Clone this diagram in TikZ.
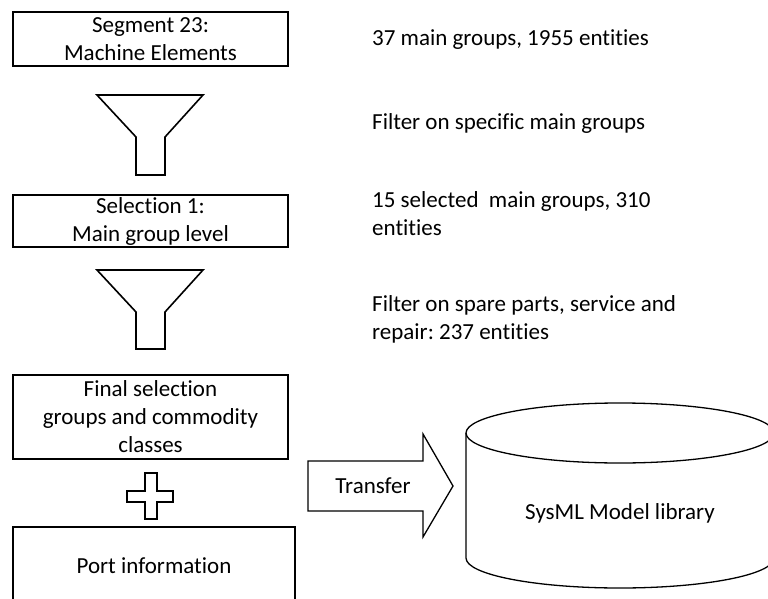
\documentclass[tikz,border=0pt]{standalone}
\usepackage{fontspec}
\setmainfont{Carlito}[Ligatures=NoCommon]
\frenchspacing
\begin{document}
\begin{tikzpicture}[x=1pt, y=-1pt,
	  box/.style={draw, line width=1.6pt, align=center, inner sep=0pt},
	  note/.style={anchor=west, align=left, inner sep=0pt},
	  outline/.style={line width=1.6pt, line join=miter},
	  every node/.style={font=\fontsize{23}{28}\selectfont}]
	  \useasboundingbox (0,0) rectangle (768,599);

	  \node [ box, minimum width=275pt, minimum height=54pt ] (segment) at (150.5,39) {Segment 23:\\Machine Elements};
	  \node [ box, minimum width=275pt, minimum height=52pt ] (selection) at (150.5,221) {Selection 1:\\Main group level};
	  \node [ box, minimum width=275pt, minimum height=84pt ] (final) at (150.5,417) {Final selection\\groups and commodity\\classes};
	  \node [ box, minimum width=282pt, minimum height=78pt ] (port) at (154,566) {Port information};

	  \draw [ outline ] (97,95)--(203,95)--(165,137)--(165,175)--(136,175)--(136,137)--cycle;
	  \draw [ outline ] (97,270)--(203,270)--(165,312)--(165,349)--(136,349)--(136,312)--cycle;

	  \draw [ outline ] (145,473)--(157,473)--(157,491)--(173,491)--(173,502)--(157,502)--(157,519)
	    --(145,519)--(145,502)--(127,502)--(127,491)--(145,491)--cycle;

	  \node [ note ] (groups) at (372,40) {37 main groups, 1955 entities};
	  \node [ note ] (filter1) at (372,123) {Filter on specific main groups};
	  \node [ note ] (selected) at (372,213.5) {15 selected\ \ main groups, 310\\entities};
	  \node [ note ] (filter2) at (372,319.5) {Filter on spare parts, service and\\repair: 237 entities};

	  \draw [ line width=1.3pt, line join=miter ] (308,461)--(423,461)--(423,434)--(453,486)--(423,537)--(423,511)--(308,511)--cycle;
	  \node (transfer) at (373,486) {Transfer};

	  \draw [ line width=1.3pt ] (620,433) ellipse [ x radius=154, y radius=30 ];
	  \draw [ line width=1.3pt ] (466,433)--(466,558) arc [ start angle=180, end angle=0, x radius=154, y radius=30 ]--(774,433);
	  \node (library) at (620,513) {SysML Model library};
\end{tikzpicture}
\end{document}
